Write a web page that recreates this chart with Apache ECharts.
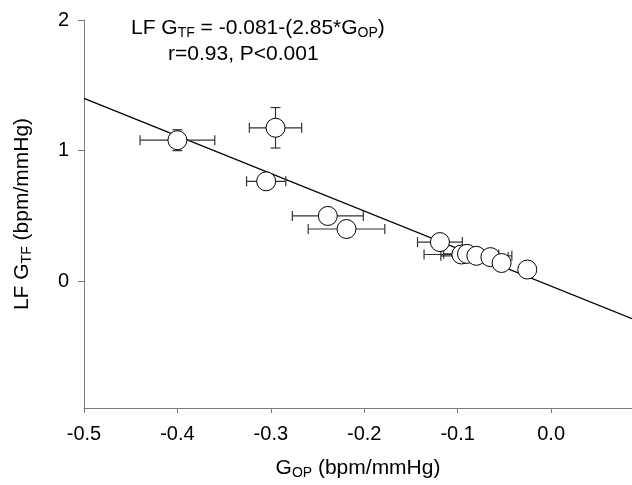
<!DOCTYPE html>
<html>
<head>
<meta charset="utf-8">
<script src="https://cdn.jsdelivr.net/npm/echarts@6/dist/echarts.min.js"></script>
<style>
html,body{margin:0;padding:0;background:#fff;}
#c{width:632px;height:485px;}
</style>
</head>
<body>
<div id="c"></div>
<script>
// Data
var gop      = [-0.400, -0.295, -0.305, -0.239, -0.219, -0.119, -0.096, -0.090, -0.080, -0.065, -0.053, -0.0255];
var lfGtf    = [ 1.080,  1.175,  0.765,  0.500,  0.400,  0.300,  0.205,  0.210,  0.195,  0.185,  0.140,  0.090];
var gopErr   = [ 0.040,  0.028,  0.021,  0.038,  0.041,  0.024,  0.040,  0.025,  0.038,  0.019,  0.000,  0.000];
var lfErr    = [ 0.080,  0.155,  0.060,  0.000,  0.000,  0.000,  0.000,  0.000,  0.000,  0.000,  0.000,  0.000];
var fitX     = [-0.5, 0.0866];
var fitY     = [1.40, -0.286];
var xTicks   = [-0.5, -0.4, -0.3, -0.2, -0.1, 0.0];
var yTicks   = [0, 1, 2];

var pts = gop.map(function(x, i){ return [x, lfGtf[i]]; });
var errData = gop.map(function(x, i){ return [x, lfGtf[i], gopErr[i], lfErr[i]]; });
var fitData = fitX.map(function(x, i){ return [x, fitY[i]]; });

var chart = echarts.init(document.getElementById('c'), null, {renderer:'canvas'});
var font = 'Liberation Sans, Arial, sans-serif';
var axisCol = '#7a7a7a';
var subStyle = {fontSize: 14, fontFamily: font, color: '#000', padding: [10, 0, 0, 0]};

chart.setOption({
  animation: false,
  backgroundColor: '#fff',
  grid: {left: 84, right: 0, top: 20, bottom: 73, containLabel: false},
  xAxis: {
    type: 'value', min: -0.5, max: 0.0866,
    axisLine: {show: true, onZero: false, lineStyle: {color: axisCol, width: 1}},
    axisTick: {show: true, inside: false, length: 5, customValues: xTicks, lineStyle: {color: axisCol}},
    axisLabel: {customValues: xTicks, color: '#000', fontFamily: font, fontSize: 20, margin: 16,
      formatter: function(v){ return v.toFixed(1); }},
    splitLine: {show: false},
    name: 'G{sub|OP} (bpm/mmHg)',
    nameLocation: 'middle', nameGap: 48,
    nameTextStyle: {color: '#000', fontFamily: font, fontSize: 21, rich: {sub: subStyle}}
  },
  yAxis: {
    type: 'value', min: -0.97, max: 2,
    axisLine: {show: true, onZero: false, lineStyle: {color: axisCol, width: 1}},
    axisTick: {show: true, inside: false, length: 6, customValues: yTicks, lineStyle: {color: axisCol}},
    axisLabel: {customValues: yTicks, color: '#000', fontFamily: font, fontSize: 20, margin: 15},
    splitLine: {show: false},
    name: 'LF G{sub|TF} (bpm/mmHg)',
    nameLocation: 'middle', nameGap: 50, nameRotate: 90,
    nameTextStyle: {color: '#000', fontFamily: font, fontSize: 21, rich: {sub: subStyle}}
  },
  series: [
    {
      type: 'line', data: fitData, symbol: 'none', z: 1,
      lineStyle: {color: '#000', width: 1.2}, silent: true
    },
    {
      type: 'custom', z: 2, data: errData, silent: true,
      renderItem: function(params, api){
        var x = api.value(0), y = api.value(1), ex = api.value(2), ey = api.value(3);
        var c = api.coord([x, y]);
        var children = [];
        var st = {stroke: '#333', lineWidth: 1.2};
        var cap = 5;
        if (ex > 0) {
          var l = api.coord([x - ex, y]), r = api.coord([x + ex, y]);
          children.push({type:'line', shape:{x1:l[0], y1:c[1], x2:r[0], y2:c[1]}, style: st});
          children.push({type:'line', shape:{x1:l[0], y1:c[1]-cap, x2:l[0], y2:c[1]+cap}, style: st});
          children.push({type:'line', shape:{x1:r[0], y1:c[1]-cap, x2:r[0], y2:c[1]+cap}, style: st});
        }
        if (ey > 0) {
          var t = api.coord([x, y + ey]), b = api.coord([x, y - ey]);
          children.push({type:'line', shape:{x1:c[0], y1:t[1], x2:c[0], y2:b[1]}, style: st});
          children.push({type:'line', shape:{x1:c[0]-cap, y1:t[1], x2:c[0]+cap, y2:t[1]}, style: st});
          children.push({type:'line', shape:{x1:c[0]-cap, y1:b[1], x2:c[0]+cap, y2:b[1]}, style: st});
        }
        return {type:'group', children: children};
      }
    },
    {
      type: 'scatter', data: pts, symbol: 'circle', symbolSize: 19, z: 3,
      itemStyle: {color: '#fff', borderColor: '#000', borderWidth: 1, opacity: 1}
    }
  ],
  graphic: [
    {
      type: 'text', left: 131, top: 18, silent: true,
      style: {
        text: 'LF G{sub|TF} = -0.081-(2.85*G{sub|OP})',
        fill: '#000', font: '21px ' + font,
        rich: {sub: {fontSize: 14, fontFamily: font, fill: '#000', padding: [10, 0, 0, 0]}}
      }
    },
    {
      type: 'text', left: 168, top: 44, silent: true,
      style: {text: 'r=0.93, P<0.001', fill: '#000', font: '21px ' + font}
    }
  ]
});
</script>
</body>
</html>
